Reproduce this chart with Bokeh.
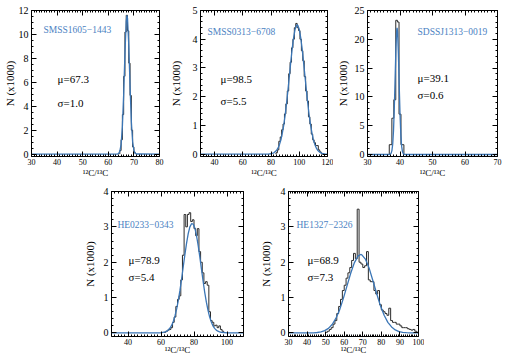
from bokeh.plotting import figure
from bokeh.models import (Range1d, LinearAxis, SingleIntervalTicker, Label, Spacer,
                          CustomJSTickFormatter)
from bokeh.layouts import row, column
from bokeh.embed import file_html
from bokeh.resources import INLINE

# ---------------- data ----------------
names = ["SMSS1605\u22121443", "SMSS0313\u22126708", "SDSSJ1313\u22120019",
         "HE0233\u22120343", "HE1327\u22122326"]
mu = [67.3, 98.5, 39.1, 78.9, 68.9]
sigma = [1.0, 5.5, 0.6, 5.4, 7.3]

# histograms (bin edges, counts in thousands)
h1_edges = [64.5, 65.0, 65.5, 66.0, 66.5, 67.0, 67.5, 68.0, 68.5, 69.0, 69.5, 70.0, 70.5]
h1_counts = [0.3, 1.2, 3.3, 6.5, 10.2, 11.6, 10.3, 7.6, 4.9, 2.0, 0.6, 0.15]

h2_edges = [83.5, 84.5, 85.5, 86.5, 87.5, 88.5, 89.5, 90.5, 91.5, 92.5, 93.5, 94.5,
            95.5, 96.5, 97.5, 98.5, 99.5, 100.5, 101.5, 102.5, 103.5, 104.5, 105.5,
            106.5, 107.5, 108.5, 109.5, 110.5, 111.5, 112.5, 113.5, 114.5, 115.5, 116.5]
h2_counts = [0.05, 0.15, 0.45, 0.6, 0.85, 1.05, 1.4, 1.75, 2.2, 2.8, 3.2, 3.7, 4.0,
             4.4, 4.55, 4.4, 4.3, 4.0, 3.6, 3.25, 2.7, 2.2, 1.85, 1.3, 1.05, 0.7,
             0.5, 0.4, 0.3, 0.3, 0.15, 0.08, 0.03]

h3_edges = [36.7, 37.5, 38.1, 38.7, 39.2, 39.7, 40.3, 41.2]
h3_counts = [1.7, 6.3, 9.5, 23.3, 23.0, 7.0, 1.7]

h4_edges = [62, 63, 64, 65, 66, 67, 68, 69, 70, 71, 72, 73, 74, 75, 76, 77, 78, 79,
            80, 81, 82, 83, 84, 85, 86, 87, 88, 89, 90, 91, 92, 93, 94, 95, 96, 97, 98]
h4_counts = [0.02, 0.05, 0.08, 0.1, 0.15, 0.3, 0.45, 0.75, 0.95, 1.05, 1.5, 2.2,
             3.35, 3.0, 3.35, 3.4, 3.15, 3.2, 2.95, 2.75, 2.95, 2.3, 2.0, 1.7, 1.4,
             1.45, 1.35, 0.6, 0.35, 0.3, 0.2, 0.22, 0.15, 0.2, 0.1, 0.05]

h5_edges = [50, 51, 52, 53, 54, 55, 56, 57, 58, 59, 60, 61, 62, 63, 64, 65, 66, 67,
            68, 69, 70, 71, 72, 73, 74, 75, 76, 77, 78, 79, 80, 81, 82, 83, 84, 85,
            86, 87, 88, 89, 90, 91, 92, 93, 94, 95, 96, 97, 98, 99, 100]
h5_counts = [0.02, 0.05, 0.1, 0.15, 0.25, 0.35, 0.55, 0.75, 0.95, 1.2, 1.35, 1.55,
             1.7, 1.85, 2.05, 2.25, 2.1, 3.5, 2.0, 1.95, 1.85, 1.9, 2.3, 1.5, 1.45,
             1.45, 1.2, 1.1, 1.2, 0.8, 0.65, 0.6, 0.55, 0.5, 0.7, 0.35, 0.3, 0.3,
             0.25, 0.25, 0.2, 0.15, 0.15, 0.15, 0.12, 0.1, 0.08, 0.1, 0.05, 0.02]

# gaussian fit curves
c1_x = [30, 63.5, 64.0, 64.5, 65.0, 65.5, 66.0, 66.5, 67.0, 67.3, 67.5, 68.0, 68.5,
        69.0, 69.5, 70.0, 70.5, 71.0, 80]
c1_y = [0, 0, 0.05, 0.23, 0.82, 2.3, 4.98, 8.4, 11.1, 11.6, 11.37, 9.08, 5.65,
        2.73, 1.03, 0.3, 0.07, 0.01, 0]

c2_x = [30, 78, 80, 82, 84, 85, 86, 87, 88, 89, 90, 91, 92, 93, 94, 95, 96, 97, 98,
        98.5, 99, 100, 101, 102, 103, 104, 105, 106, 107, 108, 109, 110, 111, 112,
        113, 114, 116, 118, 120]
c2_y = [0, 0.004, 0.016, 0.05, 0.14, 0.22, 0.34, 0.5, 0.73, 1.01, 1.36, 1.78, 2.24,
        2.73, 3.22, 3.68, 4.06, 4.34, 4.48, 4.5, 4.48, 4.34, 4.06, 3.68, 3.22, 2.73,
        2.24, 1.78, 1.36, 1.01, 0.73, 0.5, 0.34, 0.22, 0.14, 0.09, 0.03, 0.008, 0]

c3_x = [30, 36.5, 36.75, 37.0, 37.25, 37.5, 37.75, 38.0, 38.25, 38.5, 38.75, 39.0,
        39.1, 39.25, 39.5, 39.75, 40.0, 40.25, 40.5, 40.75, 41.0, 41.25, 41.5, 70]
c3_y = [0, 0, 0.01, 0.05, 0.19, 0.63, 1.75, 4.1, 8.1, 13.3, 18.6, 21.7, 22.0, 21.3,
        17.6, 12.2, 7.1, 3.5, 1.45, 0.5, 0.15, 0.04, 0, 0]

c4_x = [30, 56.5, 58.5, 60.5, 62.5, 63.5, 64.5, 65.5, 66.5, 67.5, 68.5, 69.5, 70.5,
        71.5, 72.5, 73.5, 74.5, 75.5, 76.5, 77.5, 78.5, 79.5, 80.5, 81.5, 82.5, 83.5,
        84.5, 85.5, 86.5, 87.5, 88.5, 89.5, 90.5, 91.5, 92.5, 93.5, 94.5, 95.5, 96.5,
        98.5, 100.5, 110]
c4_y = [0, 0, 0.003, 0.01, 0.03, 0.05, 0.09, 0.14, 0.22, 0.33, 0.49, 0.68, 0.92,
        1.21, 1.53, 1.88, 2.22, 2.54, 2.81, 3.0, 3.09, 3.08, 2.97, 2.76, 2.48, 2.16,
        1.81, 1.47, 1.15, 0.87, 0.64, 0.45, 0.31, 0.2, 0.13, 0.08, 0.05, 0.03, 0.02,
        0.01, 0, 0]

c5_x = [30, 40, 43.5, 45.5, 47.5, 49.5, 51.5, 53.5, 55.5, 57.5, 59.5, 61.5, 63.5,
        65.5, 67.5, 68.9, 69.5, 71.5, 73.5, 75.5, 77.5, 79.5, 81.5, 83.5, 85.5, 87.5,
        89.5, 91.5, 93.5, 95.5, 100]
c5_y = [0, 0, 0.005, 0.013, 0.03, 0.065, 0.13, 0.24, 0.41, 0.65, 0.97, 1.33, 1.69,
        1.99, 2.18, 2.22, 2.21, 2.08, 1.82, 1.47, 1.11, 0.77, 0.5, 0.3, 0.17, 0.087,
        0.04, 0.018, 0.008, 0.003, 0]

x_label = "\u00b9\u00b2C/\u00b9\u00b3C"
y_label = "N (x1000)"

FONT = "Liberation Serif"
BLUE = "#3b76b6"
NAME_BLUE = "#4b82c2"


def step_xy(edges, counts):
    xs = [edges[0]]
    ys = [0]
    for i, c in enumerate(counts):
        xs += [edges[i], edges[i + 1]]
        ys += [c, c]
    xs.append(edges[-1])
    ys.append(0)
    return xs, ys


def style_axis(ax, labels=True):
    ax.axis_line_color = None
    ax.major_tick_in = 5
    ax.major_tick_out = 0
    ax.minor_tick_in = 2
    ax.minor_tick_out = 0
    ax.major_tick_line_color = "black"
    ax.minor_tick_line_color = "black"
    ax.major_label_text_font = FONT
    ax.major_label_text_color = "black"
    ax.axis_label_text_font = FONT
    ax.axis_label_text_font_style = "normal"
    ax.axis_label_text_color = "black"
    if not labels:
        ax.formatter = CustomJSTickFormatter(code="return ''")
        ax.major_label_text_font_size = "1px"
        ax.major_label_standoff = 0


def make_panel(i, fw, fh, bl, br, bt, bb, xr, yr, xint, yint, yminor,
               ylab_standoff, xlab_standoff, edges, counts, cx, cy,
               name_pos, mu_pos, sig_pos):
    p = figure(frame_width=fw, frame_height=fh, x_range=Range1d(*xr), y_range=Range1d(*yr),
               output_backend="svg", toolbar_location=None,
               min_border_left=bl, min_border_right=br,
               min_border_top=bt, min_border_bottom=bb)
    p.grid.visible = False
    p.outline_line_color = "black"
    p.outline_line_width = 1
    p.background_fill_color = "white"
    p.border_fill_color = "white"

    xt = SingleIntervalTicker(interval=xint, num_minor_ticks=10)
    yt = SingleIntervalTicker(interval=yint, num_minor_ticks=yminor)
    p.xaxis.ticker = xt
    p.yaxis.ticker = yt
    for ax in p.xaxis:
        style_axis(ax)
        ax.major_label_text_font_size = "8px"
        ax.major_label_standoff = 2
        ax.axis_label = x_label
        ax.axis_label_text_font_size = "9px"
        ax.axis_label_standoff = xlab_standoff
    for ax in p.yaxis:
        style_axis(ax)
        ax.major_label_text_font_size = "10px"
        ax.major_label_standoff = 3
        ax.axis_label = y_label
        ax.axis_label_text_font_size = "11px"
        ax.axis_label_standoff = ylab_standoff

    top = LinearAxis(ticker=xt)
    style_axis(top, labels=False)
    p.add_layout(top, "above")
    right = LinearAxis(ticker=yt)
    style_axis(right, labels=False)
    p.add_layout(right, "right")

    hx, hy = step_xy(edges, counts)
    p.line(hx, hy, line_color="#2a2a2a", line_width=1)
    p.line(cx, cy, line_color=BLUE, line_width=1.3)

    p.add_layout(Label(x=name_pos[0], y=name_pos[1], text=names[i], text_font=FONT,
                       text_font_size="9.5px", text_color=NAME_BLUE,
                       text_baseline="middle"))
    p.add_layout(Label(x=mu_pos[0], y=mu_pos[1], text="\u03bc=%.1f" % mu[i],
                       text_font=FONT, text_font_size="11px", text_color="black",
                       text_baseline="middle"))
    p.add_layout(Label(x=sig_pos[0], y=sig_pos[1], text="\u03c3=%.1f" % sigma[i],
                       text_font=FONT, text_font_size="11px", text_color="black",
                       text_baseline="middle"))
    return p


f1 = make_panel(0, 128, 146, 31, 7, 10, 22, (30, 80), (-0.2, 12), 10, 2, 4, 0, 0,
                h1_edges, h1_counts, c1_x, c1_y, (34.7, 10.4), (40.2, 6.3), (40.2, 4.3))
f2 = make_panel(1, 127, 146, 34, 6, 10, 22, (30, 120), (-0.08, 5), 20, 1, 5, 8, 0,
                h2_edges, h2_counts, c2_x, c2_y, (35, 4.24), (44.2, 2.63), (44.2, 1.86))
f3 = make_panel(2, 130, 146, 34, 8, 10, 22, (30, 70), (-0.35, 25), 10, 5, 5, 3, 0,
                h3_edges, h3_counts, c3_x, c3_y, (45.4, 21.3), (45.4, 13.2), (45.4, 10.4))
f4 = make_panel(3, 132, 145, 31, 13, 11, 19, (30, 110), (-0.1, 4), 20, 1, 5, 5, -3,
                h4_edges, h4_counts, c4_x, c4_y, (33.6, 3.06), (40.3, 2.07), (40.3, 1.57))
f5 = make_panel(4, 130, 145, 32, 6, 11, 19, (30, 100), (-0.1, 4), 10, 1, 5, 6, -3,
                h5_edges, h5_counts, c5_x, c5_y, (34.3, 3.06), (40.2, 2.07), (40.2, 1.57))

layout = column(row(f1, f2, f3), row(Spacer(width=80, height=10), f4, f5))

open("out.html", "w").write(file_html(layout, INLINE))
